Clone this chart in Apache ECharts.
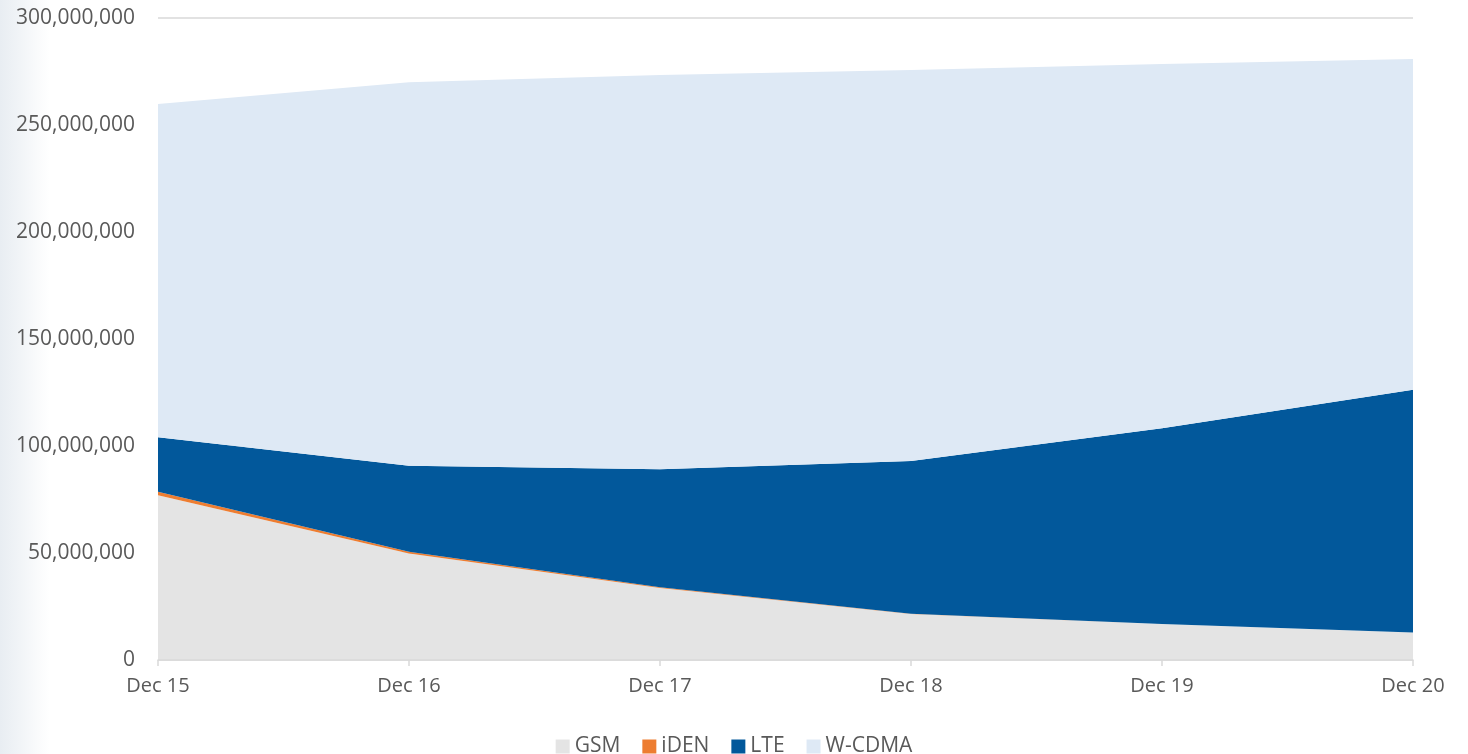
<!DOCTYPE html>
<html>
<head>
<meta charset="utf-8">
<title>Subscribers by technology</title>
<script src="https://cdn.jsdelivr.net/npm/echarts@6/dist/echarts.min.js"></script>
<style>
  html, body { margin: 0; padding: 0; }
  body { background: linear-gradient(to right, #e8edf2 0px, #f1f4f7 20px, #fafbfc 38px, #ffffff 50px); }
  #chart { width: 1468px; height: 754px; }
</style>
</head>
<body>
<div id="chart"></div>
<script>
const categories = ['Dec 15', 'Dec 16', 'Dec 17', 'Dec 18', 'Dec 19', 'Dec 20']
const gsm = [77000000, 49800000, 33600000, 21500000, 16800000, 12800000]
const iden = [1600000, 800000, 400000, 100000, 50000, 20000]
const lte = [25500000, 40200000, 55100000, 71400000, 91500000, 113500000]
const wcdma = [155700000, 179200000, 184300000, 182700000, 170100000, 154500000]

const seriesNames = ['GSM', 'iDEN', 'LTE', 'W-CDMA']
const colors = ['#e4e4e4', '#ed7d31', '#02589b', '#dee9f5']
const textColor = '#595959'
const fontFamily = '"Open Sans", sans-serif'

const chart = echarts.init(document.getElementById('chart'))

function areaSeries(name, data) {
  return {
    name: name,
    type: 'line',
    stack: 'total',
    data: data,
    showSymbol: false,
    symbol: 'none',
    lineStyle: { width: 0 },
    areaStyle: { opacity: 1 },
    animation: false
  }
}

chart.setOption({
  color: colors,
  textStyle: { fontFamily: fontFamily },
  grid: {
    left: 158,
    right: 55,
    top: 18,
    bottom: 94
  },
  legend: {
    data: seriesNames,
    bottom: -8,
    left: 'center',
    icon: 'rect',
    itemWidth: 14,
    itemHeight: 14,
    itemGap: 22,
    itemStyle: { borderWidth: 0 },
    textStyle: { color: textColor, fontSize: 21, fontFamily: fontFamily }
  },
  xAxis: {
    type: 'category',
    data: categories,
    boundaryGap: false,
    axisLine: { lineStyle: { color: '#d9d9d9', width: 1.5 } },
    axisTick: { show: true, length: 6, lineStyle: { color: '#d9d9d9', width: 1.5 } },
    axisLabel: { color: textColor, fontSize: 20, margin: 16 },
    z: 10
  },
  yAxis: {
    type: 'value',
    min: 0,
    max: 300000000,
    interval: 50000000,
    axisLine: { show: false },
    axisTick: { show: false },
    splitLine: { lineStyle: { color: '#d9d9d9', width: 1.5 } },
    axisLabel: {
      color: textColor,
      fontSize: 21,
      margin: 23,
      formatter: function (v) { return v.toLocaleString('en-US') }
    }
  },
  series: [
    areaSeries('GSM', gsm),
    areaSeries('iDEN', iden),
    areaSeries('LTE', lte),
    areaSeries('W-CDMA', wcdma)
  ]
})
</script>
</body>
</html>
